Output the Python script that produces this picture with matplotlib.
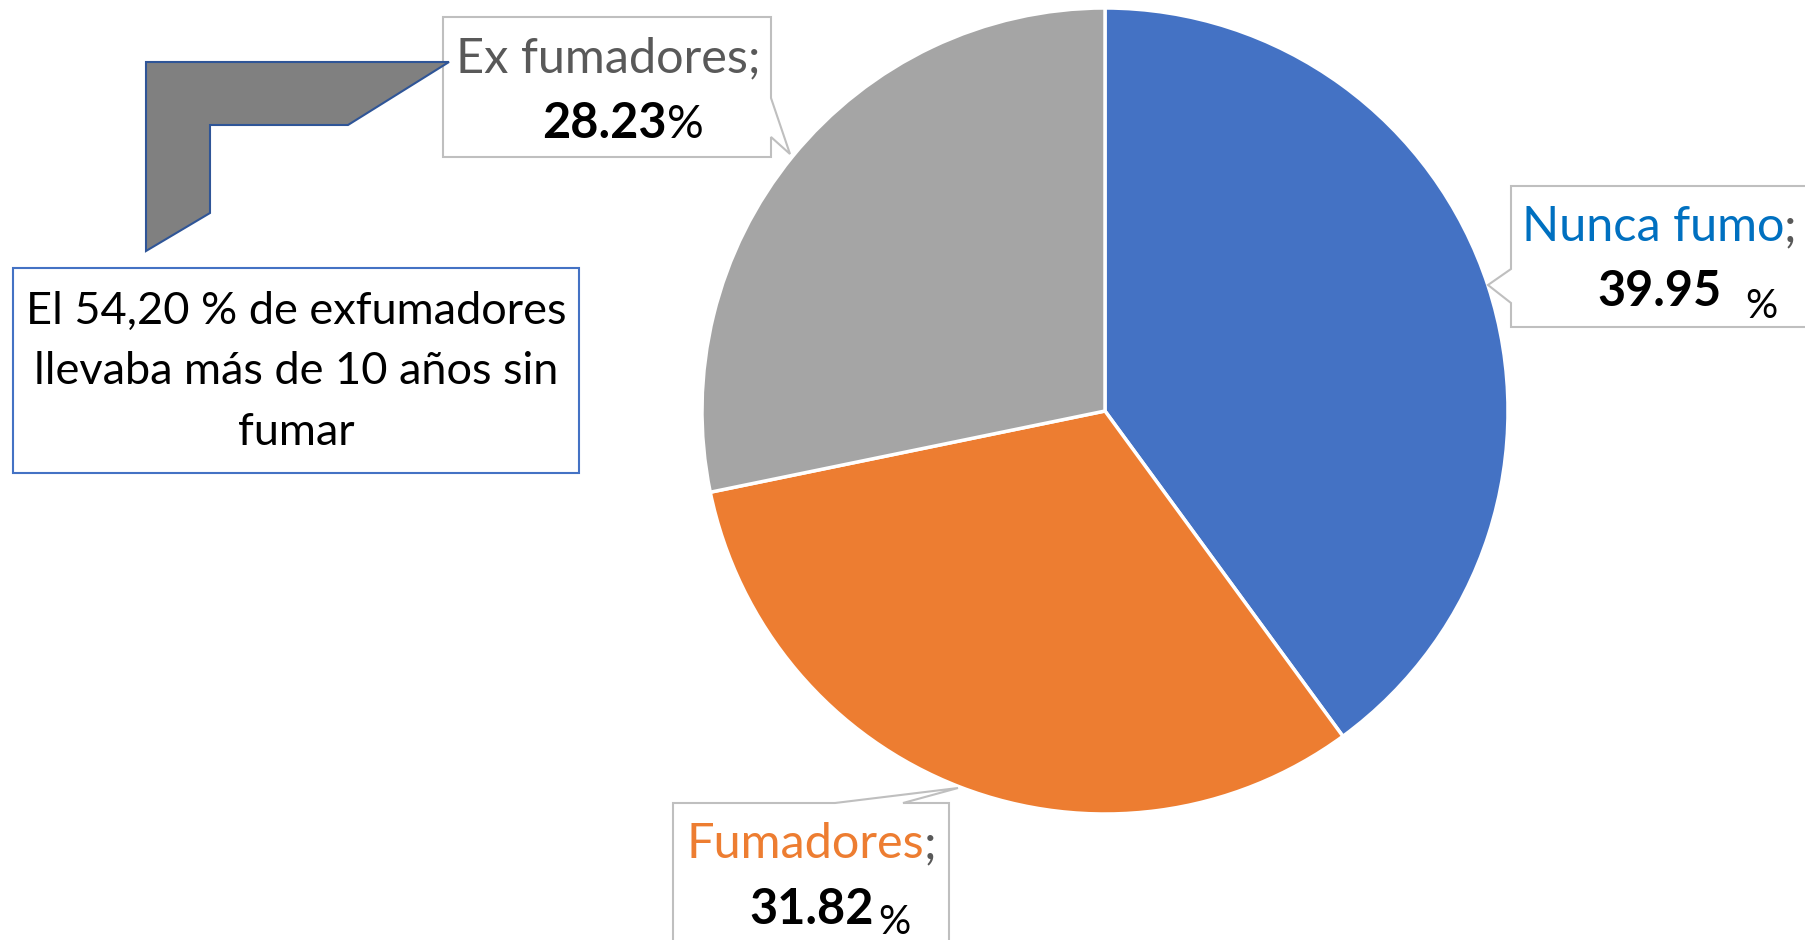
import matplotlib.pyplot as plt
from matplotlib.patches import Polygon, Rectangle

# Data
labels = ['Nunca fumo', 'Fumadores', 'Ex fumadores']
values = [39.95, 31.82, 28.23]
colors = ['#4472C4', '#ED7D31', '#A5A5A5']
label_colors = ['#0070C0', '#ED7D31', '#595959']
note = 'El 54,20 % de exfumadores\nllevaba más de 10 años sin\nfumar'

plt.rcParams['font.family'] = ['Lato', 'DejaVu Sans']

fig = plt.figure(figsize=(18.05, 9.40), dpi=100)
ax = fig.add_axes([0, 0, 1, 1])

# pixel coords, y goes down -> startangle -90 + counterclock draws clockwise from 12 o'clock
ax.pie(values, colors=colors, startangle=-90, counterclock=True,
       center=(1105, 411), radius=403,
       wedgeprops=dict(edgecolor='white', linewidth=2.5))
ax.set_xlim(0, 1805)
ax.set_ylim(940, 0)
ax.set_aspect('equal')
ax.axis('off')

edge = '#BFBFBF'
# callout outlines (box + pointer)
callouts = [
    [(1511, 186), (1810, 186), (1810, 327), (1511, 327), (1511, 303), (1488, 285), (1511, 269)],
    [(673, 803), (835, 803), (958, 788), (903, 803), (949, 803), (949, 950), (673, 950)],
    [(443, 17), (771, 17), (771, 98), (790, 154), (771, 137), (771, 157), (443, 157)],
]
for pts in callouts:
    ax.add_patch(Polygon(pts, closed=True, facecolor='white', edgecolor=edge, linewidth=1.5, zorder=3))

fs = 35
# Nunca fumo
ax.text(1784, 227, labels[0], color=label_colors[0], fontsize=fs, ha='right', va='center', zorder=4)
ax.text(1784, 227, ';', color='#595959', fontsize=fs, ha='left', va='center', zorder=4)
ax.text(1660, 291, f'{values[0]:.2f}', color='black', fontsize=fs, fontweight='bold', ha='center', va='center', zorder=4)
ax.text(1761, 306, '%', color='black', fontsize=fs - 6, ha='center', va='center', zorder=4)

# Fumadores
ax.text(924, 844, labels[1], color=label_colors[1], fontsize=fs, ha='right', va='center', zorder=4)
ax.text(924, 844, ';', color='#595959', fontsize=fs, ha='left', va='center', zorder=4)
ax.text(812, 909, f'{values[1]:.2f}', color='black', fontsize=fs, fontweight='bold', ha='center', va='center', zorder=4)
ax.text(894, 922, '%', color='black', fontsize=fs - 6, ha='center', va='center', zorder=4)

# Ex fumadores
ax.text(608, 58, labels[2] + ';', color=label_colors[2], fontsize=fs, ha='center', va='center', zorder=4)
ax.text(667, 123, f'{values[2]:.2f}', color='black', fontsize=fs, fontweight='bold', ha='right', va='center', zorder=4)
ax.text(667, 125, '%', color='black', fontsize=fs - 2, ha='left', va='center', zorder=4)

# bent arrow shape
ax.add_patch(Polygon([(146, 62), (449, 62), (348, 125), (210, 125), (210, 213), (146, 251)],
                     closed=True, facecolor='#808080', edgecolor='#2F5597', linewidth=1.5, zorder=3))

# note box
ax.add_patch(Rectangle((13, 268), 566, 205, facecolor='white', edgecolor='#4472C4', linewidth=1.5, zorder=3))
ax.text(296, 372, note, color='black', fontsize=32.5, ha='center', va='center',
        linespacing=1.6, zorder=4)

fig.savefig('out.png', dpi=100)
